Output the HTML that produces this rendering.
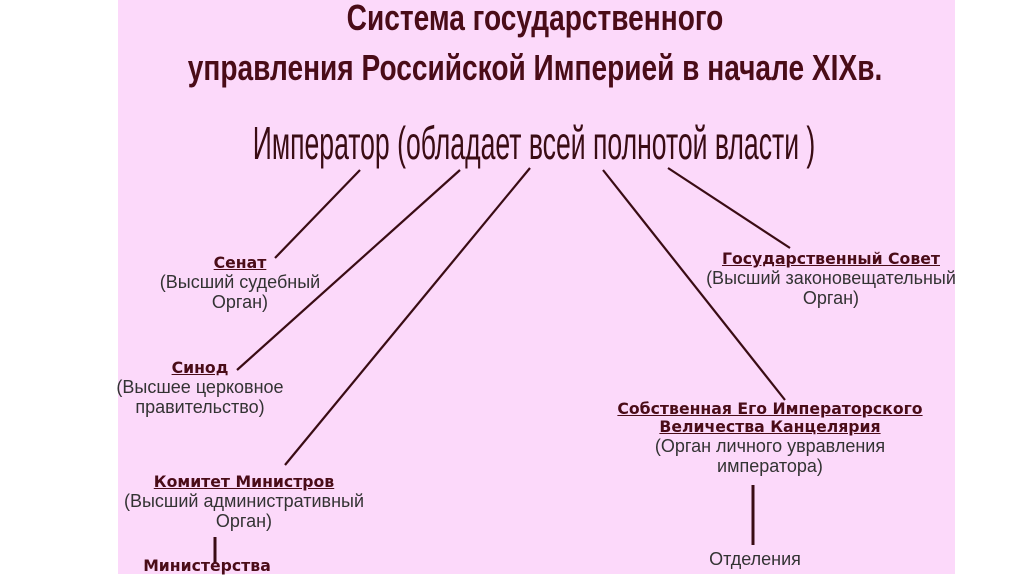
<!DOCTYPE html>
<html><head><meta charset="utf-8"><style>
body{margin:0;width:1024px;height:574px;background:#fff;position:relative;overflow:hidden;font-family:"Liberation Sans",sans-serif}
#bg{position:absolute;left:118px;top:0;width:837px;height:574px;background:#fcd9fa}
.t{position:absolute;white-space:nowrap;text-align:center;transform-origin:center top}
.title{color:#4a0c18;font-weight:bold;font-size:36px;line-height:40px;left:0;width:1070px}
.emp{color:#3a0c14;font-size:46px;left:0;width:1068px}
.b{font-family:"DejaVu Sans",sans-serif;font-weight:bold;color:#4a0c18;text-decoration:underline;font-size:15.7px;line-height:18px}
.r{color:#333;font-size:18px;line-height:20px}
.blk{position:absolute;text-align:center;white-space:nowrap}
svg{position:absolute;left:0;top:0}
</style></head><body>
<div id="bg"></div>
<div class="t title" style="top:-2px;transform:scaleX(0.78)">Система государственного</div>
<div class="t title" style="top:48px;transform:scaleX(0.78)">управления Российской Империей в начале XIXв.</div>
<div class="t emp" style="top:116px;transform:scaleX(0.578)">Император (обладает всей полнотой власти )</div>
<svg width="1024" height="574">
<g stroke="#3a0c14" stroke-width="2.2" fill="none">
<line x1="360" y1="170" x2="275" y2="258"/>
<line x1="460" y1="170" x2="237" y2="370"/>
<line x1="530" y1="168" x2="285" y2="465"/>
<line x1="603" y1="170" x2="785" y2="400"/>
<line x1="668" y1="168" x2="790" y2="248"/>
<line x1="215" y1="537" x2="215" y2="563" stroke-width="3"/>
<line x1="753" y1="485" x2="753" y2="545" stroke-width="3"/>
</g></svg>
<div class="blk" style="left:140px;width:200px;top:254px"><div class="b">Сенат</div><div class="r">(Высший судебный<br>Орган)</div></div>
<div class="blk" style="left:100px;width:200px;top:359px"><div class="b">Синод</div><div class="r">(Высшее церковное<br>правительство)</div></div>
<div class="blk" style="left:94px;width:300px;top:473px"><div class="b">Комитет Министров</div><div class="r">(Высший административный<br>Орган)</div></div>
<div class="blk" style="left:107px;width:200px;top:557px"><div class="b" style="text-decoration:none">Министерства</div></div>
<div class="blk" style="left:681px;width:300px;top:250px"><div class="b">Государственный Совет</div><div class="r">(Высший законовещательный<br>Орган)</div></div>
<div class="blk" style="left:570px;width:400px;top:400px"><div class="b">Собственная Его Императорского<br>Величества Канцелярия</div><div class="r">(Орган личного увравления<br>императора)</div></div>
<div class="blk" style="left:655px;width:200px;top:549px"><div class="r">Отделения</div></div>
</body></html>
